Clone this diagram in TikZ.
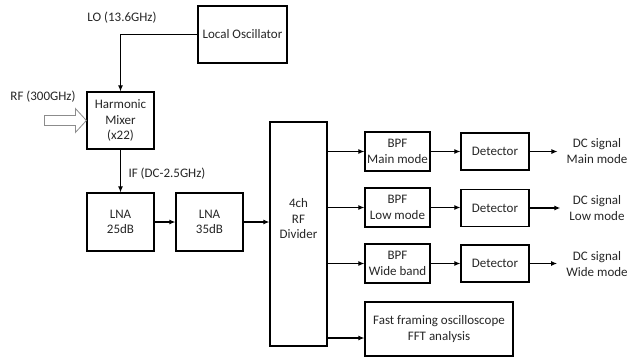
\documentclass[tikz,border=0pt]{standalone}
\usepackage{fontspec}
\setmainfont{Carlito}
\usetikzlibrary{arrows.meta}

\tikzset{
    blk/.style={draw, line width=1.2pt, align=center, inner sep=1pt},
    sig/.style={line width=1.1pt, -{Latex[length=6pt,width=5pt]}},
    txt/.style={align=center, inner sep=0pt}
}

\begin{document}
\begin{tikzpicture}[x=1pt, y=-1pt, font=\fontsize{13}{15.5}\selectfont, text=black!85]
    \useasboundingbox (0,0) rectangle (629,360);

    % front end
    \node[blk, minimum width=89, minimum height=57] (lo) at (242.5,34.5) {Local Oscillator};
    \node[blk, minimum width=67, minimum height=57] (mix) at (120.5,120.5) {Harmonic\\Mixer\\(x22)};
    \node[blk, minimum width=67, minimum height=58] (lnaa) at (120.5,222) {LNA\\25dB};
    \node[blk, minimum width=67, minimum height=58] (lnab) at (209.5,222) {LNA\\35dB};

    \node[txt] (lotxt) at (122,18) {LO (13.6GHz)};
    \node[txt] (rftxt) at (43,97) {RF (300GHz)};
    \node[txt] (iftxt) at (167,174) {IF (DC-2.5GHz)};

    \draw[sig] (lo.west) -| (mix.north);
    \draw[sig] (mix.south) -- (lnaa.north);
    \draw[sig] (lnaa.east) -- (lnab.west);

    % hollow RF input arrow
    \draw[black!45, line width=0.8pt] (mix.west) -- ++(-11,-12) -- ++(0,7) -- ++(-31,0)
        -- ++(0,10) -- ++(31,0) -- ++(0,7) -- cycle;

    % divider
    \node[blk, minimum width=57, minimum height=224] (div) at (298.5,234) {};
    \node[txt] (divtxt) at (298.5,219) {4ch\\RF\\Divider};
    \draw[sig] (lnab.east) -- (lnab.east -| div.west);

    % branches
    \node[blk, minimum width=65, minimum height=39] (bpfa) at (397.5,151.5) {BPF\\Main mode};
    \node[blk, minimum width=65, minimum height=39] (bpfb) at (397.5,207.5) {BPF\\Low mode};
    \node[blk, minimum width=65, minimum height=39] (bpfc) at (397.5,263.5) {BPF\\Wide band};

    \node[blk, minimum width=68, minimum height=37] (deta) at (495,151.5) {Detector};
    \node[blk, minimum width=68, minimum height=37] (detb) at (495,208) {Detector};
    \node[blk, minimum width=68, minimum height=37] (detc) at (495,263.5) {Detector};

    \node[blk, minimum width=148, minimum height=54] (fft) at (439,329) {Fast framing oscilloscope\\FFT analysis};

    \node[txt, inner xsep=9pt] (outa) at (597,151) {DC signal\\Main mode};
    \node[txt, inner xsep=9pt] (outb) at (597,208) {DC signal\\Low mode};
    \node[txt, inner xsep=9pt] (outc) at (597,264) {DC signal\\Wide mode};

    \draw[sig] (div.east |- bpfa.west) -- (bpfa.west);
    \draw[sig] (div.east |- bpfb.west) -- (bpfb.west);
    \draw[sig] (div.east |- bpfc.west) -- (bpfc.west);
    \coordinate (fftin) at ([yshift=-9pt]fft.west);
    \draw[sig] (div.east |- fftin) -- (fftin);

    \draw[sig] (bpfa.east) -- (bpfa.east -| deta.west);
    \draw[sig] (bpfb.east) -- (bpfb.east -| detb.west);
    \draw[sig] (bpfc.east) -- (bpfc.east -| detc.west);

    \draw[sig] (deta.east) -- (deta.east -| outa.west);
    \draw[sig] (detb.east) -- (detb.east -| outb.west);
    \draw[sig] (detc.east) -- (detc.east -| outc.west);
\end{tikzpicture}
\end{document}
